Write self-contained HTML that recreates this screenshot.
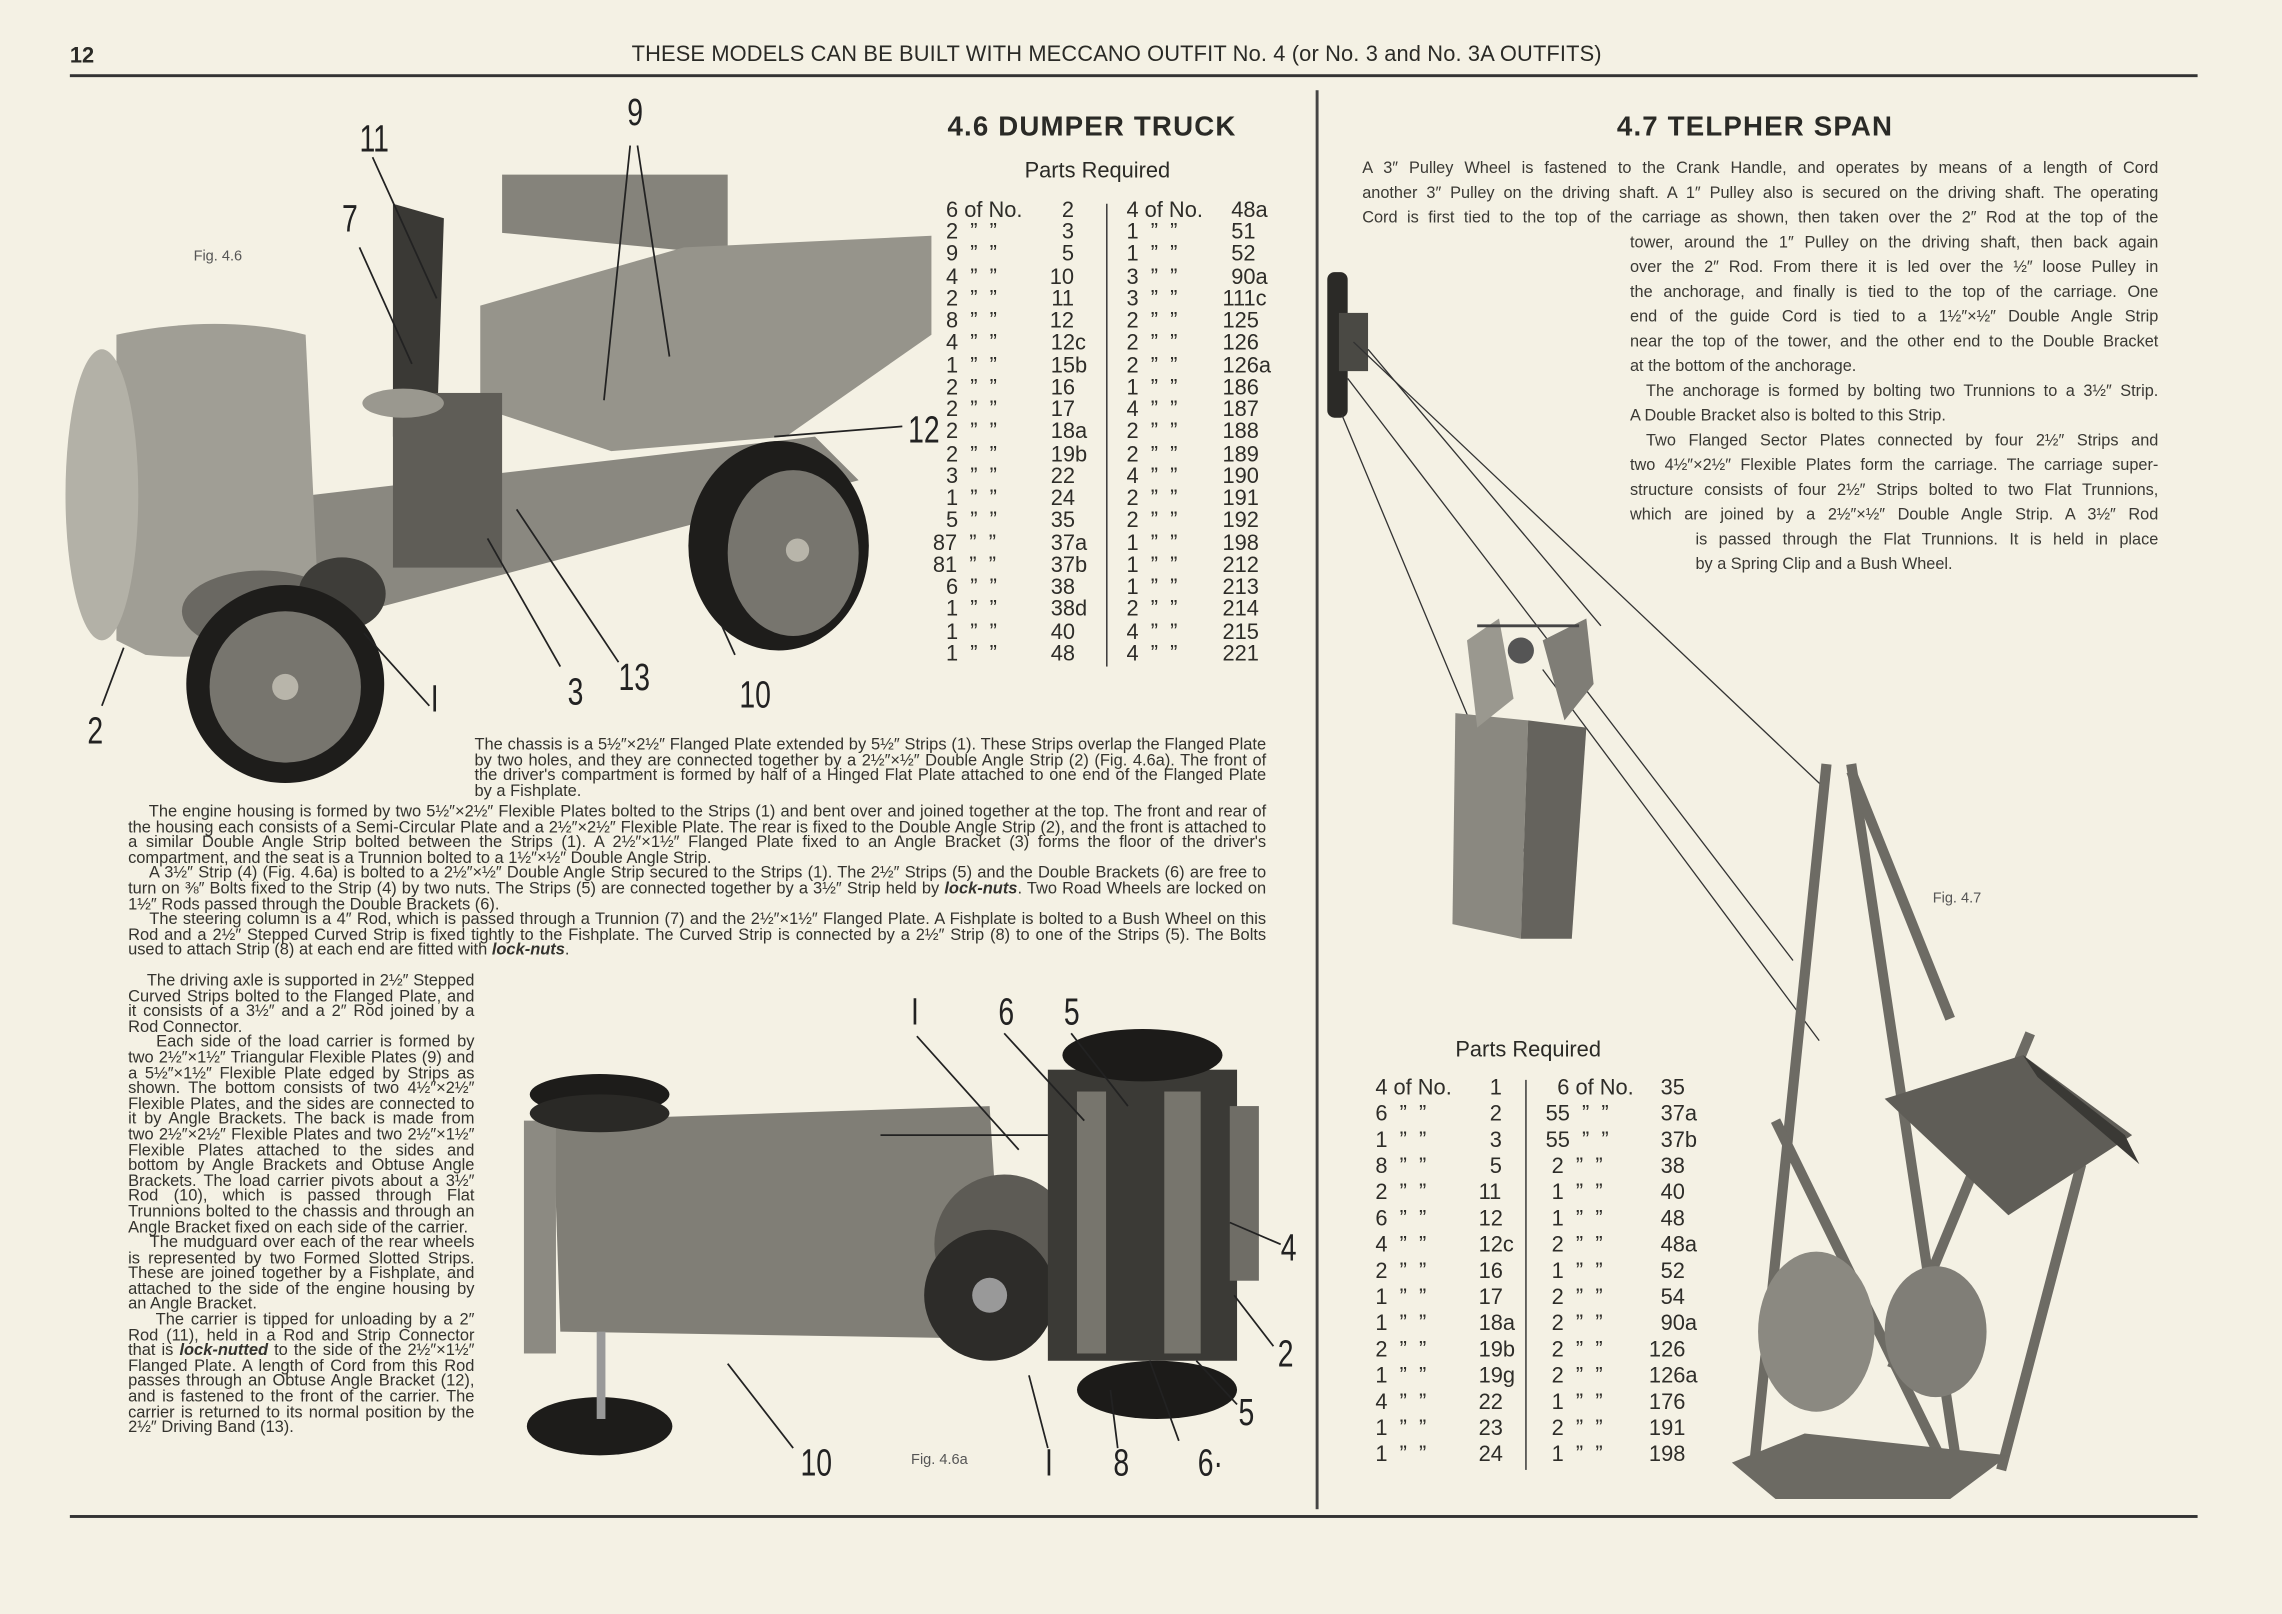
<!DOCTYPE html>
<html><head><meta charset="utf-8">
<style>
html,body{margin:0;padding:0;background:#f4f1e4;}
#w{position:absolute;left:0;top:0;width:1568px;height:1109px;transform:scale(1.45536);transform-origin:0 0;overflow:hidden;background:#f4f1e4;font-family:"Liberation Sans",sans-serif;color:#2a2a26;}
.a{position:absolute;white-space:nowrap;}
.p{position:absolute;font-size:11.3px;line-height:10.6px;text-align:justify;color:#34332e;}
.t{position:absolute;font-size:11.2px;line-height:17px;text-align:justify;text-align-last:justify;white-space:nowrap;color:#3a3934;}
.r{position:absolute;font-size:15px;line-height:15px;color:#2e2d29;}
.r span{position:absolute;white-space:nowrap;}
.q{text-align:right;}
.lbl{position:absolute;font-size:26px;font-family:"Liberation Sans Narrow","Liberation Sans",sans-serif;color:#222;transform:scaleX(0.75);transform-origin:0 0;}
</style></head><body>
<div id="w">
<div class="a" style="left:48px;top:30px;font-size:15px;font-weight:bold;">12</div>
<div class="a" style="left:434px;top:29px;font-size:15px;letter-spacing:0.1px;">THESE MODELS CAN BE BUILT WITH MECCANO OUTFIT No. 4 (or No. 3 and No. 3A OUTFITS)</div>
<div class="a" style="left:48px;top:51px;width:1462px;height:2px;background:#333;"></div>
<div class="a" style="left:904px;top:62px;width:1.5px;height:975px;background:#444;"></div>
<div class="a" style="left:48px;top:1041px;width:1462px;height:2px;background:#333;"></div>

<svg class="a" style="left:0;top:0" width="1568" height="1109" viewBox="0 0 1568 1109">
<g>
<polygon points="345,160 345,120 500,120 500,175" fill="#85837b"/>
<polygon points="330,210 470,170 640,162 640,230 540,300 420,310 330,280" fill="#96948b"/>
<polygon points="270,140 305,150 300,300 270,300" fill="#3a3935"/>
<polygon points="215,340 560,300 590,330 250,420 210,400" fill="#8a8880"/>
<rect x="270" y="270" width="75" height="120" fill="#5f5d57"/>
<path d="M80,230 Q150,215 210,230 L220,440 Q150,455 100,450 L80,440 Z" fill="#a09e95"/>
<ellipse cx="70" cy="340" rx="25" ry="100" fill="#b3b1a7"/>
<ellipse cx="180" cy="420" rx="55" ry="28" fill="#6a6862"/>
<ellipse cx="277" cy="277" rx="28" ry="10" fill="#9a988f"/>
<ellipse cx="235" cy="408" rx="30" ry="25" fill="#3e3d39"/>
<circle cx="196" cy="470" r="68" fill="#1e1d1b"/>
<circle cx="196" cy="472" r="52" fill="#77756e"/>
<circle cx="196" cy="472" r="9" fill="#b8b5aa"/>
<ellipse cx="535" cy="375" rx="62" ry="72" fill="#1e1d1b"/>
<ellipse cx="545" cy="380" rx="45" ry="57" fill="#77756e"/>
<circle cx="548" cy="378" r="8" fill="#b8b5aa"/>
<g stroke="#222" stroke-width="1.2" fill="none">
<line x1="256" y1="108" x2="300" y2="205"/>
<line x1="247" y1="170" x2="283" y2="250"/>
<line x1="433" y1="100" x2="415" y2="275"/>
<line x1="438" y1="100" x2="460" y2="245"/>
<line x1="620" y1="293" x2="532" y2="300"/>
<line x1="250" y1="435" x2="295" y2="485"/>
<line x1="335" y1="370" x2="385" y2="458"/>
<line x1="355" y1="350" x2="425" y2="455"/>
<line x1="496" y1="430" x2="505" y2="450"/>
<line x1="85" y1="445" x2="70" y2="485"/>
</g>
</g>
<g>
<polygon points="380,770 680,760 690,920 385,915" fill="#807e76"/>
<rect x="360" y="770" width="22" height="160" fill="#8c8a82"/>
<ellipse cx="412" cy="752" rx="48" ry="14" fill="#1d1c1a"/>
<ellipse cx="412" cy="765" rx="48" ry="13" fill="#2a2926"/>
<ellipse cx="412" cy="980" rx="50" ry="20" fill="#1d1c1a"/>
<rect x="410" y="915" width="6" height="60" fill="#999"/>
<circle cx="690" cy="855" r="48" fill="#5d5b55"/>
<circle cx="680" cy="890" r="45" fill="#2d2c29"/>
<circle cx="680" cy="890" r="12" fill="#999"/>
<rect x="720" y="735" width="130" height="200" fill="#3b3a36"/>
<rect x="740" y="750" width="20" height="180" fill="#77756d"/>
<rect x="800" y="750" width="25" height="180" fill="#77756d"/>
<ellipse cx="785" cy="725" rx="55" ry="18" fill="#1c1b19"/>
<ellipse cx="795" cy="955" rx="55" ry="20" fill="#1c1b19"/>
<rect x="845" y="760" width="20" height="120" fill="#6f6d66"/>
<g stroke="#222" stroke-width="1.2">
<line x1="630" y1="712" x2="700" y2="790"/>
<line x1="690" y1="710" x2="745" y2="770"/>
<line x1="736" y1="710" x2="775" y2="760"/>
<line x1="845" y1="840" x2="880" y2="855"/>
<line x1="848" y1="890" x2="875" y2="925"/>
<line x1="822" y1="935" x2="850" y2="965"/>
<line x1="790" y1="935" x2="810" y2="990"/>
<line x1="763" y1="955" x2="768" y2="995"/>
<line x1="707" y1="945" x2="720" y2="995"/>
<line x1="500" y1="937" x2="545" y2="995"/>
<line x1="605" y1="780" x2="720" y2="780"/>
</g>
</g>
<g>
<rect x="912" y="187" width="14" height="100" rx="5" fill="#2b2a27"/>
<rect x="920" y="215" width="20" height="40" fill="#4a4944"/>
<g stroke="#333" stroke-width="0.9">
<line x1="930" y1="235" x2="1252" y2="540"/>
<line x1="926" y1="260" x2="1232" y2="660"/>
<line x1="922" y1="285" x2="1062" y2="620"/>
<line x1="940" y1="240" x2="1100" y2="430"/>
<line x1="1060" y1="460" x2="1250" y2="715"/>
</g>
<polygon points="1000,490 1050,495 1045,645 998,635" fill="#8a8880"/>
<polygon points="1050,495 1090,500 1080,645 1045,645" fill="#65635d"/>
<polygon points="1008,440 1030,425 1040,480 1015,500" fill="#9a988f"/>
<polygon points="1060,440 1090,425 1095,470 1075,495" fill="#7f7d76"/>
<line x1="1015" y1="430" x2="1085" y2="430" stroke="#444" stroke-width="2"/>
<circle cx="1045" cy="447" r="9" fill="#555"/>
<g stroke="#6d6b64" stroke-width="7" fill="none">
<line x1="1255" y1="525" x2="1205" y2="1010"/>
<line x1="1272" y1="525" x2="1345" y2="1010"/>
<line x1="1272" y1="530" x2="1340" y2="700"/>
<line x1="1300" y1="940" x2="1395" y2="710"/>
<line x1="1220" y1="770" x2="1335" y2="1005"/>
<line x1="1430" y1="800" x2="1375" y2="1010"/>
</g>
<polygon points="1295,755 1390,725 1465,780 1380,835" fill="#5f5d57"/>
<polygon points="1390,725 1460,780 1470,800 1400,740" fill="#3a3935"/>
<ellipse cx="1248" cy="915" rx="40" ry="55" fill="#8b8981"/>
<ellipse cx="1330" cy="915" rx="35" ry="45" fill="#807e77"/>
<polygon points="1190,1005 1240,985 1380,1000 1340,1030 1220,1030" fill="#6c6a63"/>
</g>
</svg>

<div class="lbl" style="left:247px;top:80px;">11</div>
<div class="lbl" style="left:431px;top:62px;">9</div>
<div class="lbl" style="left:235px;top:135px;">7</div>
<div class="lbl" style="left:624px;top:280px;">12</div>
<div class="lbl" style="left:60px;top:487px;">2</div>
<div class="lbl" style="left:296px;top:465px;">I</div>
<div class="lbl" style="left:390px;top:460px;">3</div>
<div class="lbl" style="left:425px;top:450px;">13</div>
<div class="lbl" style="left:508px;top:462px;">10</div>
<div class="a" style="left:133px;top:171px;font-size:10px;color:#555;">Fig. 4.6</div>
<div class="lbl" style="left:626px;top:680px;">I</div>
<div class="lbl" style="left:686px;top:680px;">6</div>
<div class="lbl" style="left:731px;top:680px;">5</div>
<div class="lbl" style="left:880px;top:842px;">4</div>
<div class="lbl" style="left:878px;top:915px;">2</div>
<div class="lbl" style="left:851px;top:955px;">5</div>
<div class="lbl" style="left:550px;top:990px;">10</div>
<div class="lbl" style="left:718px;top:990px;">I</div>
<div class="lbl" style="left:765px;top:990px;">8</div>
<div class="lbl" style="left:823px;top:990px;">6·</div>
<div class="a" style="left:626px;top:998px;font-size:10px;color:#555;">Fig. 4.6a</div>
<div class="a" style="left:1328px;top:612px;font-size:10px;color:#555;">Fig. 4.7</div>

<div class="a" style="left:651px;top:77px;font-size:19px;font-weight:bold;letter-spacing:0.8px;">4.6 DUMPER TRUCK</div>
<div class="a" style="left:704px;top:109px;font-size:15px;">Parts Required</div>
<div class="a" style="left:1111px;top:77px;font-size:19px;font-weight:bold;letter-spacing:0.8px;">4.7 TELPHER SPAN</div>
<div class="a" style="left:1000px;top:713px;font-size:15px;">Parts Required</div>
<div class="a" style="left:760px;top:140px;width:1px;height:318px;background:#333;"></div>
<div class="a" style="left:1048px;top:742px;width:1px;height:268px;background:#333;"></div>

<div class="r" style="left:0;top:0;">
<span style="left:650px;top:137px">6 of No.</span><span class="q" style="left:700px;width:38px;top:137px">2</span>
<span style="left:650px;top:152px">2 &nbsp;” &nbsp;”</span><span class="q" style="left:700px;width:38px;top:152px">3</span>
<span style="left:650px;top:167px">9 &nbsp;” &nbsp;”</span><span class="q" style="left:700px;width:38px;top:167px">5</span>
<span style="left:650px;top:183px">4 &nbsp;” &nbsp;”</span><span class="q" style="left:700px;width:38px;top:183px">10</span>
<span style="left:650px;top:198px">2 &nbsp;” &nbsp;”</span><span class="q" style="left:700px;width:38px;top:198px">11</span>
<span style="left:650px;top:213px">8 &nbsp;” &nbsp;”</span><span class="q" style="left:700px;width:38px;top:213px">12</span>
<span style="left:650px;top:228px">4 &nbsp;” &nbsp;”</span><span style="left:722px;top:228px">12c</span>
<span style="left:650px;top:244px">1 &nbsp;” &nbsp;”</span><span style="left:722px;top:244px">15b</span>
<span style="left:650px;top:259px">2 &nbsp;” &nbsp;”</span><span style="left:722px;top:259px">16</span>
<span style="left:650px;top:274px">2 &nbsp;” &nbsp;”</span><span style="left:722px;top:274px">17</span>
<span style="left:650px;top:289px">2 &nbsp;” &nbsp;”</span><span style="left:722px;top:289px">18a</span>
<span style="left:650px;top:305px">2 &nbsp;” &nbsp;”</span><span style="left:722px;top:305px">19b</span>
<span style="left:650px;top:320px">3 &nbsp;” &nbsp;”</span><span style="left:722px;top:320px">22</span>
<span style="left:650px;top:335px">1 &nbsp;” &nbsp;”</span><span style="left:722px;top:335px">24</span>
<span style="left:650px;top:350px">5 &nbsp;” &nbsp;”</span><span style="left:722px;top:350px">35</span>
<span style="left:641px;top:366px">87 &nbsp;” &nbsp;”</span><span style="left:722px;top:366px">37a</span>
<span style="left:641px;top:381px">81 &nbsp;” &nbsp;”</span><span style="left:722px;top:381px">37b</span>
<span style="left:650px;top:396px">6 &nbsp;” &nbsp;”</span><span style="left:722px;top:396px">38</span>
<span style="left:650px;top:411px">1 &nbsp;” &nbsp;”</span><span style="left:722px;top:411px">38d</span>
<span style="left:650px;top:427px">1 &nbsp;” &nbsp;”</span><span style="left:722px;top:427px">40</span>
<span style="left:650px;top:442px">1 &nbsp;” &nbsp;”</span><span style="left:722px;top:442px">48</span>

<span style="left:774px;top:137px">4 of No.</span><span style="left:846px;top:137px">48a</span>
<span style="left:774px;top:152px">1 &nbsp;” &nbsp;”</span><span style="left:846px;top:152px">51</span>
<span style="left:774px;top:167px">1 &nbsp;” &nbsp;”</span><span style="left:846px;top:167px">52</span>
<span style="left:774px;top:183px">3 &nbsp;” &nbsp;”</span><span style="left:846px;top:183px">90a</span>
<span style="left:774px;top:198px">3 &nbsp;” &nbsp;”</span><span style="left:840px;top:198px">111c</span>
<span style="left:774px;top:213px">2 &nbsp;” &nbsp;”</span><span style="left:840px;top:213px">125</span>
<span style="left:774px;top:228px">2 &nbsp;” &nbsp;”</span><span style="left:840px;top:228px">126</span>
<span style="left:774px;top:244px">2 &nbsp;” &nbsp;”</span><span style="left:840px;top:244px">126a</span>
<span style="left:774px;top:259px">1 &nbsp;” &nbsp;”</span><span style="left:840px;top:259px">186</span>
<span style="left:774px;top:274px">4 &nbsp;” &nbsp;”</span><span style="left:840px;top:274px">187</span>
<span style="left:774px;top:289px">2 &nbsp;” &nbsp;”</span><span style="left:840px;top:289px">188</span>
<span style="left:774px;top:305px">2 &nbsp;” &nbsp;”</span><span style="left:840px;top:305px">189</span>
<span style="left:774px;top:320px">4 &nbsp;” &nbsp;”</span><span style="left:840px;top:320px">190</span>
<span style="left:774px;top:335px">2 &nbsp;” &nbsp;”</span><span style="left:840px;top:335px">191</span>
<span style="left:774px;top:350px">2 &nbsp;” &nbsp;”</span><span style="left:840px;top:350px">192</span>
<span style="left:774px;top:366px">1 &nbsp;” &nbsp;”</span><span style="left:840px;top:366px">198</span>
<span style="left:774px;top:381px">1 &nbsp;” &nbsp;”</span><span style="left:840px;top:381px">212</span>
<span style="left:774px;top:396px">1 &nbsp;” &nbsp;”</span><span style="left:840px;top:396px">213</span>
<span style="left:774px;top:411px">2 &nbsp;” &nbsp;”</span><span style="left:840px;top:411px">214</span>
<span style="left:774px;top:427px">4 &nbsp;” &nbsp;”</span><span style="left:840px;top:427px">215</span>
<span style="left:774px;top:442px">4 &nbsp;” &nbsp;”</span><span style="left:840px;top:442px">221</span>
</div>

<div class="r" style="left:0;top:0;">
<span style="left:945px;top:740px">4 of No.</span><span class="q" style="left:1000px;width:32px;top:740px">1</span>
<span style="left:945px;top:758px">6 &nbsp;” &nbsp;”</span><span class="q" style="left:1000px;width:32px;top:758px">2</span>
<span style="left:945px;top:776px">1 &nbsp;” &nbsp;”</span><span class="q" style="left:1000px;width:32px;top:776px">3</span>
<span style="left:945px;top:794px">8 &nbsp;” &nbsp;”</span><span class="q" style="left:1000px;width:32px;top:794px">5</span>
<span style="left:945px;top:812px">2 &nbsp;” &nbsp;”</span><span style="left:1016px;top:812px">11</span>
<span style="left:945px;top:830px">6 &nbsp;” &nbsp;”</span><span style="left:1016px;top:830px">12</span>
<span style="left:945px;top:848px">4 &nbsp;” &nbsp;”</span><span style="left:1016px;top:848px">12c</span>
<span style="left:945px;top:866px">2 &nbsp;” &nbsp;”</span><span style="left:1016px;top:866px">16</span>
<span style="left:945px;top:884px">1 &nbsp;” &nbsp;”</span><span style="left:1016px;top:884px">17</span>
<span style="left:945px;top:902px">1 &nbsp;” &nbsp;”</span><span style="left:1016px;top:902px">18a</span>
<span style="left:945px;top:920px">2 &nbsp;” &nbsp;”</span><span style="left:1016px;top:920px">19b</span>
<span style="left:945px;top:938px">1 &nbsp;” &nbsp;”</span><span style="left:1016px;top:938px">19g</span>
<span style="left:945px;top:956px">4 &nbsp;” &nbsp;”</span><span style="left:1016px;top:956px">22</span>
<span style="left:945px;top:974px">1 &nbsp;” &nbsp;”</span><span style="left:1016px;top:974px">23</span>
<span style="left:945px;top:992px">1 &nbsp;” &nbsp;”</span><span style="left:1016px;top:992px">24</span>

<span style="left:1070px;top:740px">6 of No.</span><span style="left:1141px;top:740px">35</span>
<span style="left:1062px;top:758px">55 &nbsp;” &nbsp;”</span><span style="left:1141px;top:758px">37a</span>
<span style="left:1062px;top:776px">55 &nbsp;” &nbsp;”</span><span style="left:1141px;top:776px">37b</span>
<span style="left:1062px;top:794px">&nbsp;2 &nbsp;” &nbsp;”</span><span style="left:1141px;top:794px">38</span>
<span style="left:1062px;top:812px">&nbsp;1 &nbsp;” &nbsp;”</span><span style="left:1141px;top:812px">40</span>
<span style="left:1062px;top:830px">&nbsp;1 &nbsp;” &nbsp;”</span><span style="left:1141px;top:830px">48</span>
<span style="left:1062px;top:848px">&nbsp;2 &nbsp;” &nbsp;”</span><span style="left:1141px;top:848px">48a</span>
<span style="left:1062px;top:866px">&nbsp;1 &nbsp;” &nbsp;”</span><span style="left:1141px;top:866px">52</span>
<span style="left:1062px;top:884px">&nbsp;2 &nbsp;” &nbsp;”</span><span style="left:1141px;top:884px">54</span>
<span style="left:1062px;top:902px">&nbsp;2 &nbsp;” &nbsp;”</span><span style="left:1141px;top:902px">90a</span>
<span style="left:1062px;top:920px">&nbsp;2 &nbsp;” &nbsp;”</span><span style="left:1133px;top:920px">126</span>
<span style="left:1062px;top:938px">&nbsp;2 &nbsp;” &nbsp;”</span><span style="left:1133px;top:938px">126a</span>
<span style="left:1062px;top:956px">&nbsp;1 &nbsp;” &nbsp;”</span><span style="left:1133px;top:956px">176</span>
<span style="left:1062px;top:974px">&nbsp;2 &nbsp;” &nbsp;”</span><span style="left:1133px;top:974px">191</span>
<span style="left:1062px;top:992px">&nbsp;1 &nbsp;” &nbsp;”</span><span style="left:1133px;top:992px">198</span>
</div>

<div class="p" style="left:326px;top:507px;width:544px;">The chassis is a 5½″×2½″ Flanged Plate extended by 5½″ Strips (1). These Strips overlap the Flanged Plate by two holes, and they are connected together by a 2½″×½″ Double Angle Strip (2) (Fig. 4.6a). The front of the driver's compartment is formed by half of a Hinged Flat Plate attached to one end of the Flanged Plate by a Fishplate.</div>
<div class="p" style="left:88px;top:553px;width:782px;">&nbsp;&nbsp;&nbsp;&nbsp;The engine housing is formed by two 5½″×2½″ Flexible Plates bolted to the Strips (1) and bent over and joined together at the top. The front and rear of the housing each consists of a Semi-Circular Plate and a 2½″×2½″ Flexible Plate. The rear is fixed to the Double Angle Strip (2), and the front is attached to a similar Double Angle Strip bolted between the Strips (1). A 2½″×1½″ Flanged Plate fixed to an Angle Bracket (3) forms the floor of the driver's compartment, and the seat is a Trunnion bolted to a 1½″×½″ Double Angle Strip.<br>&nbsp;&nbsp;&nbsp;&nbsp;A 3½″ Strip (4) (Fig. 4.6a) is bolted to a 2½″×½″ Double Angle Strip secured to the Strips (1). The 2½″ Strips (5) and the Double Brackets (6) are free to turn on ⅜″ Bolts fixed to the Strip (4) by two nuts. The Strips (5) are connected together by a 3½″ Strip held by <b><i>lock-nuts</i></b>. Two Road Wheels are locked on 1½″ Rods passed through the Double Brackets (6).<br>&nbsp;&nbsp;&nbsp;&nbsp;The steering column is a 4″ Rod, which is passed through a Trunnion (7) and the 2½″×1½″ Flanged Plate. A Fishplate is bolted to a Bush Wheel on this Rod and a 2½″ Stepped Curved Strip is fixed tightly to the Fishplate. The Curved Strip is connected by a 2½″ Strip (8) to one of the Strips (5). The Bolts used to attach Strip (8) at each end are fitted with <b><i>lock-nuts</i></b>.</div>
<div class="p" style="left:88px;top:669px;width:238px;">&nbsp;&nbsp;&nbsp;&nbsp;The driving axle is supported in 2½″ Stepped Curved Strips bolted to the Flanged Plate, and it consists of a 3½″ and a 2″ Rod joined by a Rod Connector.<br>&nbsp;&nbsp;&nbsp;&nbsp;Each side of the load carrier is formed by two 2½″×1½″ Triangular Flexible Plates (9) and a 5½″×1½″ Flexible Plate edged by Strips as shown. The bottom consists of two 4½″×2½″ Flexible Plates, and the sides are connected to it by Angle Brackets. The back is made from two 2½″×2½″ Flexible Plates and two 2½″×1½″ Flexible Plates attached to the sides and bottom by Angle Brackets and Obtuse Angle Brackets. The load carrier pivots about a 3½″ Rod (10), which is passed through Flat Trunnions bolted to the chassis and through an Angle Bracket fixed on each side of the carrier.<br>&nbsp;&nbsp;&nbsp;&nbsp;The mudguard over each of the rear wheels is represented by two Formed Slotted Strips. These are joined together by a Fishplate, and attached to the side of the engine housing by an Angle Bracket.<br>&nbsp;&nbsp;&nbsp;&nbsp;The carrier is tipped for unloading by a 2″ Rod (11), held in a Rod and Strip Connector that is <b><i>lock-nutted</i></b> to the side of the 2½″×1½″ Flanged Plate. A length of Cord from this Rod passes through an Obtuse Angle Bracket (12), and is fastened to the front of the carrier. The carrier is returned to its normal position by the 2½″ Driving Band (13).</div>

<div class="t" style="left:936px;top:108px;width:547px;">A 3″ Pulley Wheel is fastened to the Crank Handle, and operates by means of a length of Cord</div>
<div class="t" style="left:936px;top:125px;width:547px;">another 3″ Pulley on the driving shaft. A 1″ Pulley also is secured on the driving shaft. The operating</div>
<div class="t" style="left:936px;top:142px;width:547px;">Cord is first tied to the top of the carriage as shown, then taken over the 2″ Rod at the top of the</div>
<div class="t" style="left:1120px;top:159px;width:363px;">tower, around the 1″ Pulley on the driving shaft, then back again</div>
<div class="t" style="left:1120px;top:176px;width:363px;">over the 2″ Rod. From there it is led over the ½″ loose Pulley in</div>
<div class="t" style="left:1120px;top:193px;width:363px;">the anchorage, and finally is tied to the top of the carriage. One</div>
<div class="t" style="left:1120px;top:210px;width:363px;">end of the guide Cord is tied to a 1½″×½″ Double Angle Strip</div>
<div class="t" style="left:1120px;top:227px;width:363px;">near the top of the tower, and the other end to the Double Bracket</div>
<div class="t" style="left:1120px;top:244px;text-align-last:left;">at the bottom of the anchorage.</div>
<div class="t" style="left:1131px;top:261px;width:352px;">The anchorage is formed by bolting two Trunnions to a 3½″ Strip.</div>
<div class="t" style="left:1120px;top:278px;text-align-last:left;">A Double Bracket also is bolted to this Strip.</div>
<div class="t" style="left:1131px;top:295px;width:352px;">Two Flanged Sector Plates connected by four 2½″ Strips and</div>
<div class="t" style="left:1120px;top:312px;width:363px;">two 4½″×2½″ Flexible Plates form the carriage. The carriage super-</div>
<div class="t" style="left:1120px;top:329px;width:363px;">structure consists of four 2½″ Strips bolted to two Flat Trunnions,</div>
<div class="t" style="left:1120px;top:346px;width:363px;">which are joined by a 2½″×½″ Double Angle Strip. A 3½″ Rod</div>
<div class="t" style="left:1165px;top:363px;width:318px;">is passed through the Flat Trunnions. It is held in place</div>
<div class="t" style="left:1165px;top:380px;text-align-last:left;">by a Spring Clip and a Bush Wheel.</div>
</div>
</body></html>
